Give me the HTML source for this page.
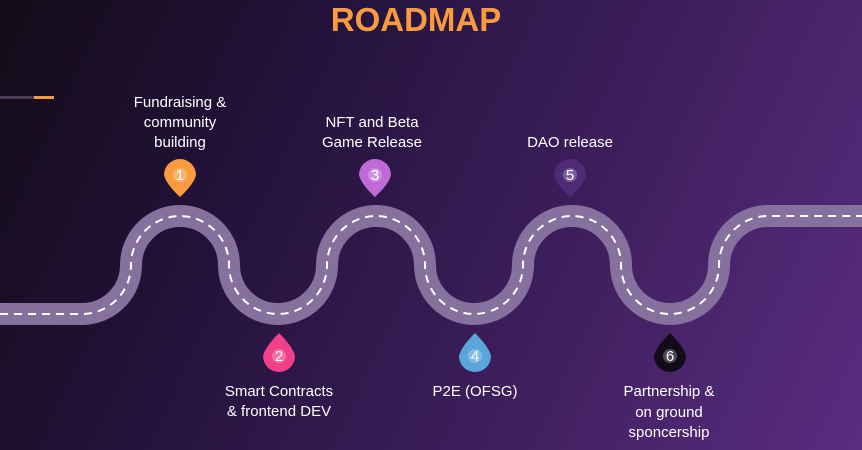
<!DOCTYPE html>
<html><head><meta charset="utf-8"><style>
html,body{margin:0;padding:0;width:862px;height:450px;overflow:hidden}
body{background:linear-gradient(115deg,#130b18 0%,#23123a 30%,#3a1d58 60%,#5a2c80 100%)}
svg{display:block}
text{font-family:"Liberation Sans",sans-serif;fill:#fff}
</style></head><body>
<svg width="862" height="450" viewBox="0 0 862 450">
<rect x="0" y="96" width="34" height="3" fill="#4a3a55"/>
<rect x="34" y="96" width="20" height="3" fill="#f89a3e"/>
<text x="416" y="31" text-anchor="middle" font-size="33" font-weight="bold" style="fill:#f89a3e">ROADMAP</text>
<path d="M0,314 H82 A49,49 0 0 0 131,265 A49,49 0 0 1 229,265 A49,49 0 0 0 327,265 A49,49 0 0 1 425,265 A49,49 0 0 0 523,265 A49,49 0 0 1 621,265 A49,49 0 0 0 719,265 A49,49 0 0 1 768,216 H862" fill="none" stroke="#85709e" stroke-width="22"/>
<path d="M0,314 H82 A49,49 0 0 0 131,265 A49,49 0 0 1 229,265 A49,49 0 0 0 327,265 A49,49 0 0 1 425,265 A49,49 0 0 0 523,265 A49,49 0 0 1 621,265 A49,49 0 0 0 719,265 A49,49 0 0 1 768,216 H862" fill="none" stroke="#fff" stroke-width="2" stroke-dasharray="8,6"/>
<g font-size="15" text-anchor="middle">
<text x="180" y="107">Fundraising &amp;</text>
<text x="180" y="127">community</text>
<text x="180" y="147">building</text>
<text x="372" y="127">NFT and Beta</text>
<text x="372" y="147">Game Release</text>
<text x="570" y="147">DAO release</text>
<text x="279" y="396">Smart Contracts</text>
<text x="279" y="416">&amp; frontend DEV</text>
<text x="475" y="396">P2E (OFSG)</text>
<text x="669" y="396">Partnership &amp;</text>
<text x="669" y="417">on ground</text>
<text x="669" y="437">sponcership</text>
</g>
<g>
<path d="M164,175 A16,16 0 1 1 196,175 Q194,184 180,197 Q166,184 164,175Z" fill="#f89a3e"/>
<path d="M359,175 A16,16 0 1 1 391,175 Q389,184 375,197 Q361,184 359,175Z" fill="#c06ad8"/>
<path d="M554,175 A16,16 0 1 1 586,175 Q584,184 570,197 Q556,184 554,175Z" fill="#4e2a78"/>
<path d="M263,356 A16,16 0 1 0 295,356 Q293,347 279,333 Q265,347 263,356Z" fill="#f0408a"/>
<path d="M459,356 A16,16 0 1 0 491,356 Q489,347 475,333 Q461,347 459,356Z" fill="#5aa6dc"/>
<path d="M654,356 A16,16 0 1 0 686,356 Q684,347 670,333 Q656,347 654,356Z" fill="#120b18"/>
<g fill="#fff" fill-opacity="0.25"><circle cx="180" cy="175" r="7"/><circle cx="375" cy="175" r="7"/><circle cx="570" cy="175" r="7"/><circle cx="279" cy="356" r="7"/><circle cx="475" cy="356" r="7"/><circle cx="670" cy="356" r="7"/></g>
<g font-size="15" text-anchor="middle">
<text x="180" y="180">1</text><text x="375" y="180">3</text><text x="570" y="180">5</text>
<text x="279" y="361">2</text><text x="475" y="361">4</text><text x="670" y="361">6</text>
</g>
</g>
</svg>
</body></html>
